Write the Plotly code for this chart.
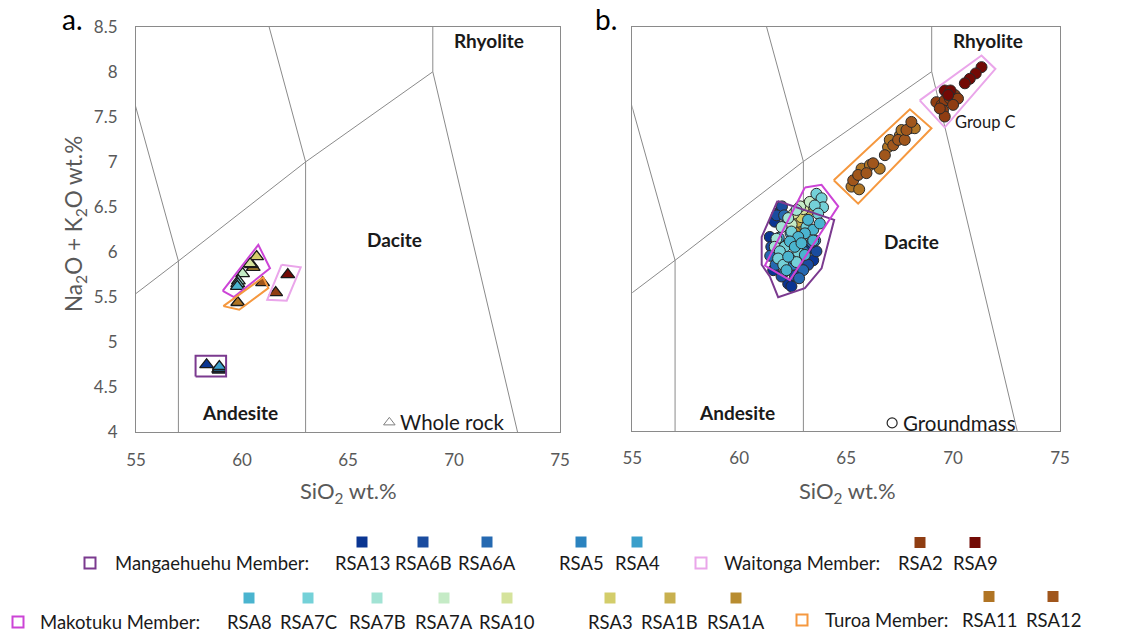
import plotly.graph_objects as go

# ---------------------------------------------------------------------------
# Data
# ---------------------------------------------------------------------------
# TAS field boundaries (SiO2 wt.%, Na2O+K2O wt.%), Le Bas et al. (1986)
TAS_BASE_SIO2 = [52, 57, 63, 69]
TAS_BASE_ALK = [5.0, 5.9, 7.0, 8.0]
TAS_57_SIO2 = [57, 57, 53]
TAS_57_ALK = [0.0, 5.9, 9.3]
TAS_63_SIO2 = [63, 63, 57.6]
TAS_63_ALK = [0.0, 7.0, 11.7]
TAS_69_SIO2 = [77, 69, 69]
TAS_69_ALK = [0.0, 8.0, 13.0]

X_TICKS = [55, 60, 65, 70, 75]
Y_TICKS = [4, 4.5, 5, 5.5, 6, 6.5, 7, 7.5, 8, 8.5]

# Members and their samples (legend order)
MANG_SAMPLES = ["RSA13", "RSA6B", "RSA6A", "RSA5", "RSA4"]
MAKO_SAMPLES = ["RSA8", "RSA7C", "RSA7B", "RSA7A", "RSA10", "RSA3", "RSA1B", "RSA1A"]
WAIT_SAMPLES = ["RSA2", "RSA9"]
TUROA_SAMPLES = ["RSA11", "RSA12"]

# Whole-rock analyses (panel a)
WR_SAMPLE = ["RSA13", "RSA6B", "RSA6A", "RSA5", "RSA4",
             "RSA1A", "RSA1B", "RSA3", "RSA10", "RSA7A", "RSA7B", "RSA7C", "RSA8",
             "RSA2", "RSA9", "RSA11", "RSA12"]
WR_SIO2 = [58.33, 58.92, 58.90, 58.93, 58.93,
           60.53, 60.45, 60.69, 60.38, 60.03, 59.83, 59.80, 59.78,
           61.59, 62.16, 59.80, 60.97]
WR_ALK = [4.75, 4.69, 4.70, 4.71, 4.73,
          5.83, 5.86, 5.95, 5.87, 5.76, 5.68, 5.65, 5.62,
          5.55, 5.75, 5.44, 5.66]

# Groundmass analyses (panel b) -- Mangaehuehu Member
MANG_GM_SAMPLE = (["RSA13"] * 8 + ["RSA6B"] * 7 + ["RSA6A"] * 6 + ["RSA5"] * 5 + ["RSA4"] * 4)
MANG_GM_SIO2 = [61.90, 61.66, 61.43, 61.59, 62.29, 63.30, 63.46, 62.44,
                62.00, 61.50, 61.98, 63.61, 63.22, 62.60, 61.75,
                62.10, 61.45, 62.99, 63.40, 62.80, 61.70,
                62.20, 62.50, 63.00, 62.15, 63.55,
                62.40, 62.90, 62.60, 61.85]
MANG_GM_ALK = [6.44, 6.33, 6.16, 5.79, 5.64, 6.03, 5.90, 5.61,
               6.50, 6.05, 5.72, 6.00, 5.85, 5.73, 6.40,
               6.40, 5.95, 5.79, 6.10, 5.70, 5.85,
               6.30, 5.85, 6.00, 5.78, 6.12,
               6.20, 6.10, 5.90, 6.15]

# Groundmass -- Makotuku Member
MAKO_GM_SAMPLE = (["RSA1A"] * 2 + ["RSA1B"] * 2 + ["RSA3"] * 2 + ["RSA10"] * 2 +
                  ["RSA7A"] * 3 + ["RSA7B"] * 5 + ["RSA7C"] * 13 + ["RSA8"] * 12)
MAKO_GM_SIO2 = [62.68, 62.95,
                62.76, 63.25,
                63.14, 62.90,
                63.00, 62.55,
                62.85, 62.45, 63.30,
                62.68, 62.29, 61.98, 61.74, 61.66,
                63.61, 63.85, 63.92, 63.53, 63.69, 62.13, 61.90, 62.76, 61.82, 62.06, 62.68, 62.44, 63.14,
                63.22, 63.46, 63.07, 62.76, 62.37, 62.60, 62.29, 62.21, 63.07, 63.46, 62.91, 63.77]
MAKO_GM_ALK = [6.27, 6.30,
               6.33, 6.45,
               6.51, 6.38,
               6.47, 6.42,
               6.50, 6.30, 6.55,
               6.46, 6.37, 6.27, 6.14, 6.05,
               6.64, 6.59, 6.49, 6.51, 6.42, 6.05, 6.00, 5.99, 5.92, 5.85, 5.88, 6.22, 6.27,
               6.35, 6.24, 6.20, 6.16, 6.11, 6.05, 5.94, 5.79, 5.96, 6.12, 6.09, 6.31]

# Groundmass -- Turoa Member
TUROA_GM_SAMPLE = ["RSA11", "RSA12", "RSA11", "RSA12", "RSA11", "RSA12", "RSA11",
                   "RSA12", "RSA11", "RSA12", "RSA11", "RSA12", "RSA11", "RSA12",
                   "RSA11", "RSA12", "RSA11", "RSA12", "RSA11", "RSA12", "RSA11"]
TUROA_GM_SIO2 = [65.25, 65.33, 65.61, 65.56, 65.72, 65.95, 66.11, 66.26, 66.57, 66.81,
                 66.96, 67.20, 67.04, 67.43, 67.51, 67.74, 67.59, 67.82, 67.98, 68.05, 68.21]
TUROA_GM_ALK = [6.72, 6.79, 6.69, 6.85, 6.92, 6.87, 6.96, 6.98, 6.92, 7.07,
                7.16, 7.18, 7.24, 7.24, 7.29, 7.24, 7.35, 7.35, 7.37, 7.44, 7.37]

# Groundmass -- Waitonga Member (Group C)
WAIT_GM_SAMPLE = ["RSA2"] * 10 + ["RSA9"] * 7
WAIT_GM_SIO2 = [69.22, 69.46, 69.61, 69.85, 70.08, 70.23, 70.00, 69.53, 69.61, 69.38,
                71.33, 71.06, 70.78, 70.55, 69.61, 69.88, 69.77]
WAIT_GM_ALK = [7.66, 7.63, 7.68, 7.70, 7.74, 7.70, 7.63, 7.57, 7.50, 7.59,
               8.05, 7.98, 7.92, 7.87, 7.79, 7.79, 7.74]

# Member envelopes, panel a (whole rock)
ENV_A_MANG_SIO2 = [57.81, 59.25, 59.25, 57.81, 57.81]
ENV_A_MANG_ALK = [4.62, 4.62, 4.85, 4.85, 4.62]
ENV_A_MAKO_SIO2 = [59.09, 60.77, 61.32, 59.62, 59.09]
ENV_A_MAKO_ALK = [5.57, 6.08, 5.82, 5.50, 5.57]
ENV_A_TUROA_SIO2 = [59.12, 61.00, 61.24, 59.87, 59.12]
ENV_A_TUROA_ALK = [5.40, 5.72, 5.60, 5.36, 5.40]
ENV_A_WAIT_SIO2 = [61.87, 62.77, 62.11, 61.19, 61.87]
ENV_A_WAIT_ALK = [5.86, 5.83, 5.46, 5.47, 5.86]

# Member envelopes, panel b (groundmass)
ENV_B_MANG_SIO2 = [61.79, 64.44, 63.85, 63.07, 61.82, 61.43, 61.05, 61.05, 61.79]
ENV_B_MANG_ALK = [6.56, 6.35, 5.81, 5.59, 5.49, 5.72, 5.85, 6.16, 6.56]
ENV_B_MAKO_SIO2 = [63.07, 63.85, 64.63, 62.37, 61.20, 63.07]
ENV_B_MAKO_ALK = [6.71, 6.74, 6.50, 5.68, 5.84, 6.71]
ENV_B_TUROA_SIO2 = [64.42, 67.98, 68.99, 65.56, 64.42]
ENV_B_TUROA_ALK = [6.79, 7.58, 7.37, 6.53, 6.79]
ENV_B_WAIT_SIO2 = [68.44, 71.33, 71.98, 69.61, 68.44]
ENV_B_WAIT_ALK = [7.68, 8.18, 8.03, 7.38, 7.68]

# ---------------------------------------------------------------------------
# Styles and layout geometry
# ---------------------------------------------------------------------------
SAMPLE_COLOR = {
    "RSA13": "#0a3592", "RSA6B": "#1a4c9f", "RSA6A": "#2569b1", "RSA5": "#2b83bf",
    "RSA4": "#3a9fcb", "RSA8": "#4ab4cf", "RSA7C": "#74d1d8", "RSA7B": "#a2e3d4",
    "RSA7A": "#c5ebc6", "RSA10": "#d5e39c", "RSA3": "#d3cd6a", "RSA1B": "#c8b04f",
    "RSA1A": "#b88c30", "RSA11": "#b07424", "RSA12": "#a0561c", "RSA2": "#8f3d12",
    "RSA9": "#730a05",
}
MEMBER_COLOR = {"Mangaehuehu": "#7b3a8f", "Makotuku": "#cc44d6",
                "Waitonga": "#eaa6ea", "Turoa": "#f5983f"}

FONT = "Lato, Carlito, Calibri, sans-serif"
GRAY_TXT = "#595959"
LINE_GRAY = "#8a8a8a"

W, H = 1125, 634
# plot-area rectangles in pixels (left, right, top, bottom)
PA = (136.0, 560.0, 26.7, 432.3)
PB = (632.3, 1060.0, 26.7, 431.0)


def px(xp, yp):
    return xp / W, 1 - yp / H


def dom_x(p):
    return [px(p[0], 0)[0], px(p[1], 0)[0]]


def dom_y(p):
    return [px(0, p[3])[1], px(0, p[2])[1]]


fig = go.Figure()

# TAS boundaries
for xa, ya in (("x", "y"), ("x2", "y2")):
    for sx, sy in ((TAS_BASE_SIO2, TAS_BASE_ALK), (TAS_57_SIO2, TAS_57_ALK),
                   (TAS_63_SIO2, TAS_63_ALK), (TAS_69_SIO2, TAS_69_ALK)):
        fig.add_trace(go.Scatter(x=sx, y=sy, mode="lines", xaxis=xa, yaxis=ya,
                                 line=dict(color=LINE_GRAY, width=1),
                                 hoverinfo="skip", showlegend=False))

ENV_A = [("Mangaehuehu", ENV_A_MANG_SIO2, ENV_A_MANG_ALK),
         ("Makotuku", ENV_A_MAKO_SIO2, ENV_A_MAKO_ALK),
         ("Turoa", ENV_A_TUROA_SIO2, ENV_A_TUROA_ALK),
         ("Waitonga", ENV_A_WAIT_SIO2, ENV_A_WAIT_ALK)]
ENV_B = [("Mangaehuehu", ENV_B_MANG_SIO2, ENV_B_MANG_ALK),
         ("Makotuku", ENV_B_MAKO_SIO2, ENV_B_MAKO_ALK),
         ("Turoa", ENV_B_TUROA_SIO2, ENV_B_TUROA_ALK),
         ("Waitonga", ENV_B_WAIT_SIO2, ENV_B_WAIT_ALK)]


def add_env(envs, xa, ya):
    for m, sx, sy in envs:
        fig.add_trace(go.Scatter(x=sx, y=sy, mode="lines", xaxis=xa, yaxis=ya,
                                 line=dict(color=MEMBER_COLOR[m], width=2),
                                 hoverinfo="skip", showlegend=False))


# Whole-rock triangles
for s, xv, yv in zip(WR_SAMPLE, WR_SIO2, WR_ALK):
    fig.add_trace(go.Scatter(x=[xv], y=[yv], mode="markers", xaxis="x", yaxis="y",
                             marker=dict(symbol="triangle-up", size=12,
                                         color=SAMPLE_COLOR[s],
                                         line=dict(color="#1a1a1a", width=1.3)),
                             name=s, showlegend=False))
add_env(ENV_A, "x", "y")


def add_gm(samples, sio2, alk, order):
    for s in order:
        xs = [x for k, x in zip(samples, sio2) if k == s]
        ys = [y for k, y in zip(samples, alk) if k == s]
        fig.add_trace(go.Scatter(x=xs, y=ys, mode="markers", xaxis="x2", yaxis="y2",
                                 marker=dict(symbol="circle", size=11,
                                             color=SAMPLE_COLOR[s],
                                             line=dict(color="#2a2a2a", width=1)),
                                 name=s, showlegend=False))


add_gm(MANG_GM_SAMPLE, MANG_GM_SIO2, MANG_GM_ALK, MANG_SAMPLES)
add_gm(MAKO_GM_SAMPLE, MAKO_GM_SIO2, MAKO_GM_ALK, MAKO_SAMPLES[::-1])
add_gm(TUROA_GM_SAMPLE, TUROA_GM_SIO2, TUROA_GM_ALK, TUROA_SAMPLES)
add_gm(WAIT_GM_SAMPLE, WAIT_GM_SIO2, WAIT_GM_ALK, WAIT_SAMPLES)
add_env(ENV_B, "x2", "y2")

# Symbol keys inside the panels
fig.add_trace(go.Scatter(x=[66.95], y=[4.11], mode="markers", xaxis="x", yaxis="y",
                         marker=dict(symbol="triangle-up-open", size=10, color="#7f7f7f",
                                     line=dict(width=1)),
                         hoverinfo="skip", showlegend=False))
fig.add_trace(go.Scatter(x=[67.15], y=[4.09], mode="markers", xaxis="x2", yaxis="y2",
                         marker=dict(symbol="circle-open", size=10, color="#262626",
                                     line=dict(width=1.2)),
                         hoverinfo="skip", showlegend=False))

ann = []


def text(x, y, t, xref, yref, size=17, color="#1a1a1a", bold=False, xanchor="center",
         yanchor="middle", angle=0):
    ann.append(dict(x=x, y=y, xref=xref, yref=yref, text=f"<b>{t}</b>" if bold else t,
                    showarrow=False, xanchor=xanchor, yanchor=yanchor, textangle=angle,
                    font=dict(family=FONT, size=size, color=color)))


# Field names
text(71.65, 8.35, "Rhyolite", "x", "y", size=19, bold=True)
text(67.17, 6.14, "Dacite", "x", "y", size=19, bold=True)
text(59.9, 4.22, "Andesite", "x", "y", size=19, bold=True)
text(71.65, 8.35, "Rhyolite", "x2", "y2", size=19, bold=True)
text(68.07, 6.11, "Dacite", "x2", "y2", size=19, bold=True)
text(59.9, 4.21, "Andesite", "x2", "y2", size=19, bold=True)
text(67.35, 4.11, "Whole rock", "x", "y", size=20.5, xanchor="left")
text(67.55, 4.09, "Groundmass", "x2", "y2", size=20.5, xanchor="left")
text(71.5, 7.44, "Group C", "x2", "y2", size=16.5)

# Panel letters
text(*px(72, 19), "a.", "paper", "paper", size=28, color="#000000")
text(*px(606, 19), "b.", "paper", "paper", size=28, color="#000000")

# Axis titles
text(*px(348, 492), "SiO<sub>2</sub> wt.%", "paper", "paper", size=22, color=GRAY_TXT)
text(*px(847, 492), "SiO<sub>2</sub> wt.%", "paper", "paper", size=22, color=GRAY_TXT)
text(*px(75, 224), "Na<sub>2</sub>O + K<sub>2</sub>O wt.%", "paper", "paper", size=22.5,
     color=GRAY_TXT, angle=-90)

# Legend: member envelopes (open squares) and sample colours (filled squares)
shapes = []
LEG_ROWS = [
    ("Mangaehuehu", MANG_SAMPLES, 90, 113, 563, 542, [362, 423, 487, 581, 637]),
    ("Waitonga", WAIT_SAMPLES, 701, 722, 563, 542.5, [920, 975]),
    ("Makotuku", MAKO_SAMPLES, 18, 38, 622, 598, [249, 308, 377, 444, 507, 610, 670, 736]),
    ("Turoa", TUROA_SAMPLES, 802, 823, 620, 596.5, [989, 1053]),
]
for member, samples, box_x, txt_x, row_y, sw_y, centers in LEG_ROWS:
    x0, y0 = px(box_x - 5.5, row_y + 5.5)
    x1, y1 = px(box_x + 5.5, row_y - 5.5)
    shapes.append(dict(type="rect", xref="paper", yref="paper", x0=x0, y0=y0, x1=x1, y1=y1,
                       line=dict(color=MEMBER_COLOR[member], width=2), fillcolor="white"))
    text(*px(txt_x, row_y), f"{member} Member:", "paper", "paper", size=18.5, xanchor="left")
    for s, cx in zip(samples, centers):
        x0, y0 = px(cx - 5.5, sw_y + 5.5)
        x1, y1 = px(cx + 5.5, sw_y - 5.5)
        shapes.append(dict(type="rect", xref="paper", yref="paper", x0=x0, y0=y0, x1=x1,
                           y1=y1, line=dict(width=0), fillcolor=SAMPLE_COLOR[s]))
        text(*px(cx, row_y), s, "paper", "paper", size=18.5)

axis_common = dict(range=[55, 75], tickvals=X_TICKS, showgrid=False, zeroline=False,
                   showline=True, mirror=True, linecolor=LINE_GRAY, linewidth=1,
                   ticks="", ticklabelstandoff=12, automargin=False,
                   tickfont=dict(family=FONT, size=17, color=GRAY_TXT))
yaxis_common = dict(range=[4, 8.5], tickvals=Y_TICKS, showgrid=False, zeroline=False,
                    showline=True, mirror=True, linecolor=LINE_GRAY, linewidth=1,
                    ticks="", ticklabelstandoff=14, automargin=False,
                    tickfont=dict(family=FONT, size=17, color=GRAY_TXT))

fig.update_layout(
    width=W, height=H, margin=dict(l=0, r=0, t=0, b=0),
    paper_bgcolor="white", plot_bgcolor="white",
    showlegend=False,
    xaxis=dict(domain=dom_x(PA), anchor="y", **axis_common),
    yaxis=dict(domain=dom_y(PA), anchor="x", **yaxis_common),
    xaxis2=dict(domain=dom_x(PB), anchor="y2", **axis_common),
    yaxis2=dict(domain=dom_y(PB), anchor="x2", showticklabels=False, **yaxis_common),
    annotations=ann, shapes=shapes,
)

fig.write_html("out.html", config={"displayModeBar": False})
